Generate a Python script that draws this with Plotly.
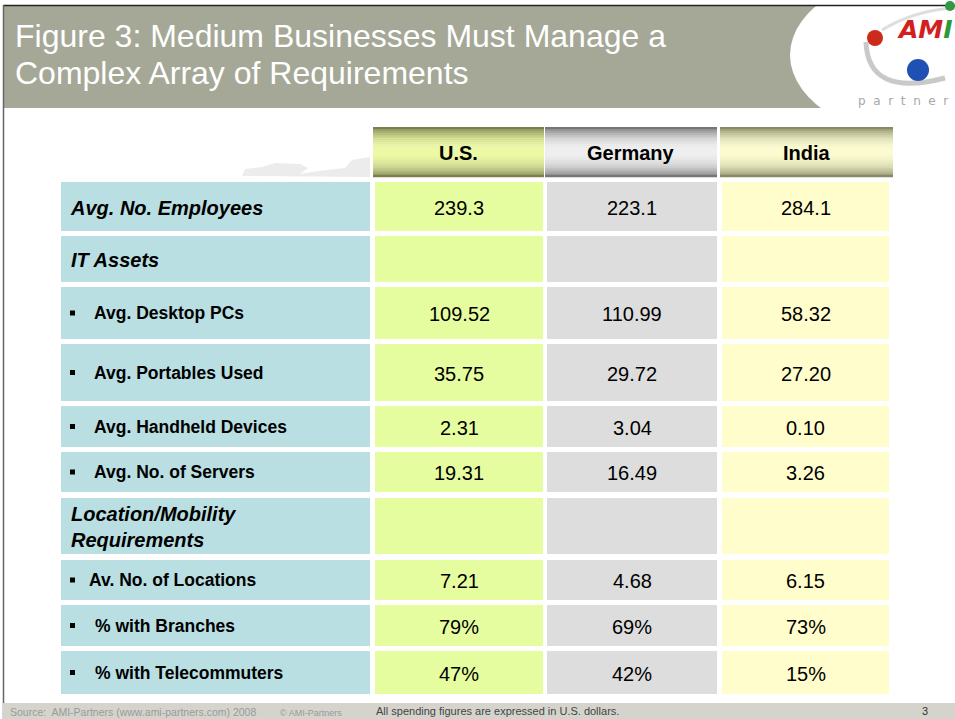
import plotly.graph_objects as go
import math

# ---------------- data ----------------
title_lines = ["Figure 3: Medium Businesses Must Manage a", "Complex Array of Requirements"]
countries = ["U.S.", "Germany", "India"]
row_labels = ["Avg. No. Employees", "IT Assets", "Avg. Desktop PCs", "Avg. Portables Used",
              "Avg. Handheld Devices", "Avg. No. of Servers", "Location/Mobility<br>Requirements",
              "Av. No. of Locations", "% with Branches", "% with Telecommuters"]
row_kind = ["section", "section", "item", "item", "item", "item", "section", "item", "item", "item"]
us_values = ["239.3", "", "109.52", "35.75", "2.31", "19.31", "", "7.21", "79%", "47%"]
de_values = ["223.1", "", "110.99", "29.72", "3.04", "16.49", "", "4.68", "69%", "42%"]
in_values = ["284.1", "", "58.32", "27.20", "0.10", "3.26", "", "6.15", "73%", "15%"]
footer_source = "Source:  AMI-Partners (www.ami-partners.com) 2008"
footer_copy = "© AMI-Partners"
footer_note = "All spending figures are expressed in U.S. dollars."
page_number = "3"
logo_word = "partner"

# ---------------- layout / style ----------------
W, H = 955, 719
FONT = "Liberation Sans, Arial, sans-serif"
row_y = [(182, 231), (236, 282), (287, 339), (344, 401), (406, 447), (452, 492),
         (498, 554), (560, 600), (605, 646), (651, 694)]
label_x = [68, 69, 92, 92, 92, 92, 69, 87, 93, 93]
label_col = (61, 370)
val_cols = [(375, 543), (547, 717), (722, 889)]
head_cols = [(373, 544), (545, 717), (720, 893)]
head_y = (127, 177)
cell_colors = ["#e6fd9f", "#dddddd", "#fffdcc"]
label_color = "#b9dfe2"
head_dark = [(92, 96, 54), (86, 86, 86), (106, 106, 72)]
head_light = [(238, 250, 166), (240, 240, 240), (252, 252, 208)]

shapes = []
annotations = []


def rect(x0, y0, x1, y1, fill, line_w=0, line_c=None):
    shapes.append(dict(type="rect", xref="x", yref="y", x0=x0, y0=y0, x1=x1, y1=y1,
                       fillcolor=fill, line=dict(width=line_w, color=line_c or fill), layer="above"))


def text(x, y, s, size, color="#000000", xanchor="left", family=FONT, yanchor="middle"):
    annotations.append(dict(x=x, y=y, xref="x", yref="y", text=s, showarrow=False,
                            xanchor=xanchor, yanchor=yanchor, align="left",
                            font=dict(family=family, size=size, color=color)))


# title band
rect(3, 5, W, 108, "#a5a896")
# logo white swoosh background
shapes.append(dict(type="circle", xref="x", yref="y", x0=790, x1=1110, y0=-35, y1=145,
                   fillcolor="#ffffff", line=dict(width=0), layer="above"))
rect(0, 0, W, 5, "#ffffff")
# band top border and left page border
shapes.append(dict(type="line", xref="x", yref="y", x0=3, x1=W, y0=5.5, y1=5.5,
                   line=dict(color="#222222", width=1.5), layer="above"))
shapes.append(dict(type="line", xref="x", yref="y", x0=3.5, x1=3.5, y0=5, y1=H,
                   line=dict(color="#666666", width=1.5), layer="above"))

# logo pieces
shapes.append(dict(type="path", xref="x", yref="y", path="M 866,42 Q 868,98 945,78",
                   line=dict(color="#c9c9c9", width=5), layer="above"))
shapes.append(dict(type="path", xref="x", yref="y", path="M 882,30 Q 915,10 955,8",
                   line=dict(color="#dedede", width=3), layer="above"))
for cx, cy, r, col in [(875, 38, 8, "#cc2a1a"), (918, 70, 11, "#1f50b4"), (950, 6, 5, "#2e9a44")]:
    shapes.append(dict(type="circle", xref="x", yref="y", x0=cx - r, x1=cx + r, y0=cy - r, y1=cy + r,
                       fillcolor=col, line=dict(width=0), layer="above"))
text(925, 29, '<b><i><span style="color:#d21f1f">AM</span><span style="color:#2a9a3a">I</span></i></b>',
     25, xanchor="center", family="DejaVu Sans, sans-serif")
text(856, 101, "\u00a0\u00a0".join(logo_word), 12, color="#a8a8a8", family="DejaVu Sans, sans-serif")

# title text
text(13, 36, title_lines[0], 32, color="#ffffff")
text(13, 73, title_lines[1], 32, color="#ffffff")

# faint cloud decoration left of header
shapes.append(dict(type="path", xref="x", yref="y",
                   path="M 242,176 L 245,169 L 262,167 L 275,163 L 300,164 L 308,168 L 300,174 "
                        "L 318,171 L 345,168 L 352,160 L 370,157 L 370,177 Z",
                   fillcolor="#ececec", line=dict(width=0), layer="above"))

# header cells with vertical gradient
N = 26
for (x0, x1), dark, light, name in zip(head_cols, head_dark, head_light, countries):
    y0, y1 = head_y
    h = (y1 - y0) / N
    for i in range(N):
        t = (i + 0.5) / N
        w = math.sin(math.pi * t) ** 0.55
        c = tuple(int(d + (l - d) * w) for d, l in zip(dark, light))
        rect(x0, y0 + i * h, x1, y0 + (i + 1) * h + 0.3, "rgb(%d,%d,%d)" % c)
    text((x0 + x1) / 2, (y0 + y1) / 2 + 1, "<b>%s</b>" % name, 20, xanchor="center")

# body rows
for i, (lab, kind) in enumerate(zip(row_labels, row_kind)):
    y0, y1 = row_y[i]
    yc = (y0 + y1) / 2
    rect(label_col[0], y0, label_col[1], y1, label_color)
    for (x0, x1), fill in zip(val_cols, cell_colors):
        rect(x0, y0, x1, y1, fill)
    if kind == "section":
        text(label_x[i], yc + 1, "<b><i>%s</i></b>" % lab, 20)
    else:
        rect(70, yc - 2.5, 75, yc + 2.5, "#000000")
        text(label_x[i], yc, "<b>%s</b>" % lab, 17.5)
    for (x0, x1), vals in zip(val_cols, [us_values, de_values, in_values]):
        if vals[i]:
            text((x0 + x1) / 2, yc + 1, vals[i], 20, xanchor="center")

# footer
rect(3, 703, W, H, "#d4d4cc")
text(8, 712, footer_source, 10.5, color="#9a9a9a")
text(278, 713, footer_copy, 9, color="#9a9a9a")
text(374, 711, footer_note, 11, color="#444444")
text(925, 711, page_number, 11, color="#333333", xanchor="center")

fig = go.Figure()
fig.add_trace(go.Scatter(x=[0, W], y=[0, H], mode="markers", marker=dict(opacity=0),
                         hoverinfo="skip", showlegend=False))
fig.update_layout(
    width=W, height=H, margin=dict(l=0, r=0, t=0, b=0),
    paper_bgcolor="#ffffff", plot_bgcolor="#ffffff",
    xaxis=dict(range=[0, W], visible=False, fixedrange=True),
    yaxis=dict(range=[H, 0], visible=False, fixedrange=True),
    shapes=shapes, annotations=annotations, showlegend=False,
)
fig.write_html("out.html", config={"displayModeBar": False},
               post_script="document.body.style.margin='0';document.body.style.overflow='hidden';")
